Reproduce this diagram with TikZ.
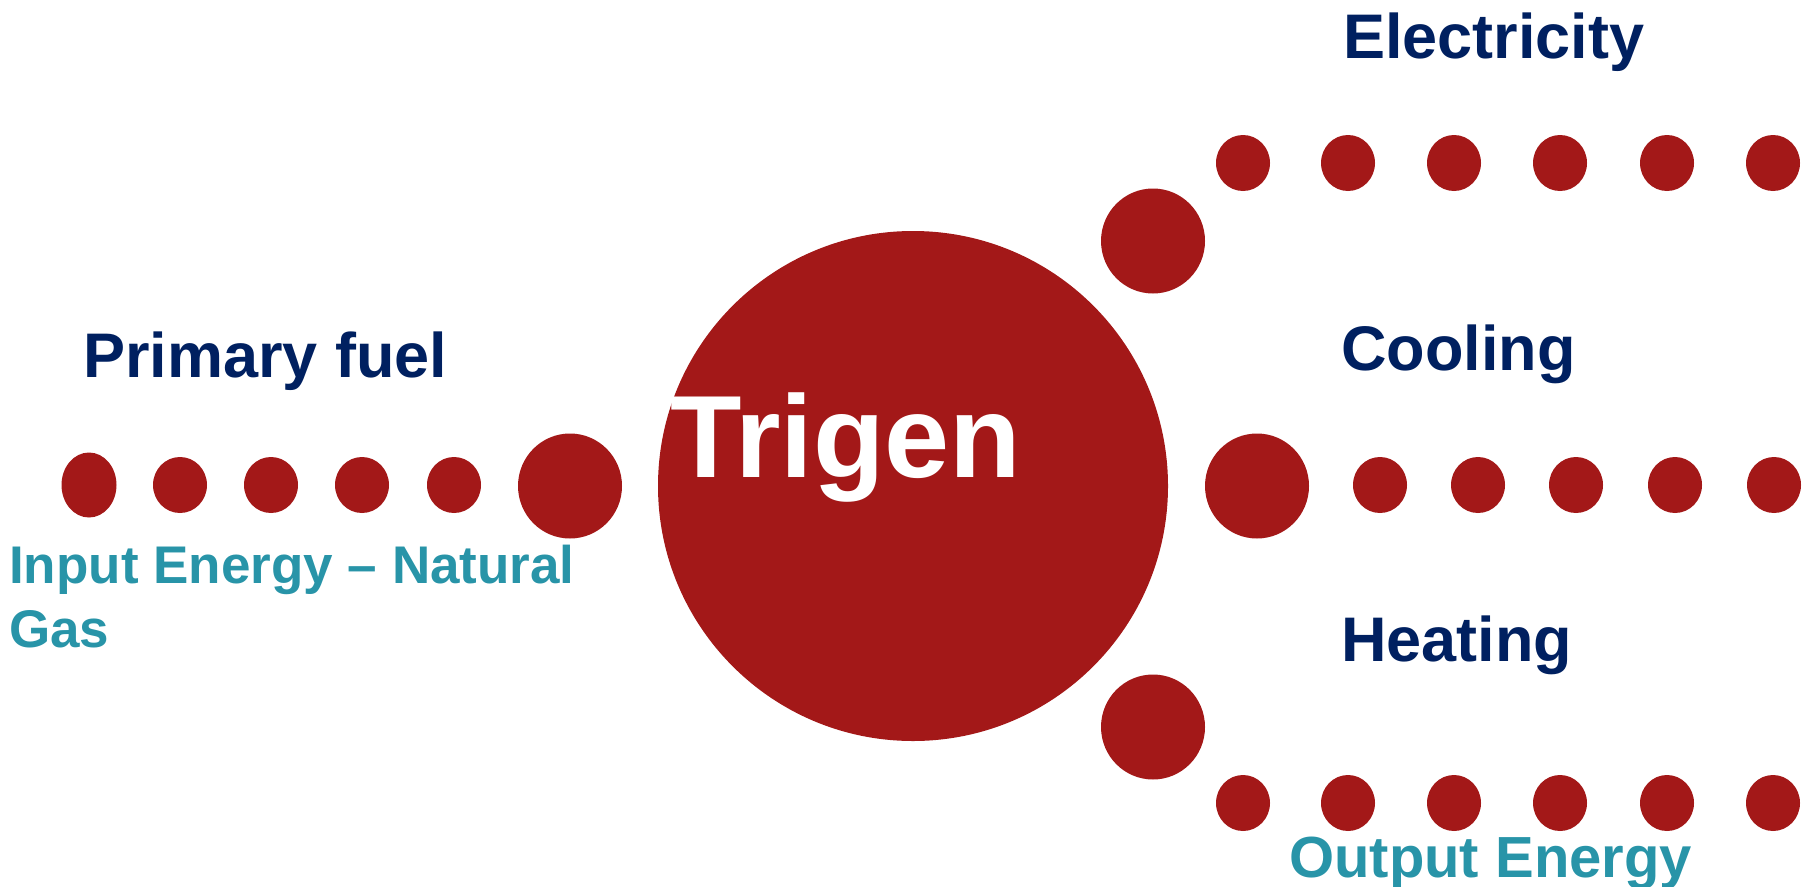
\documentclass[tikz,border=0pt]{standalone}
\usepackage{fontspec}
\setmainfont{Liberation Sans}
\usetikzlibrary{shapes.geometric}
\definecolor{trired}{RGB}{163,24,24}
\definecolor{trinavy}{RGB}{0,32,96}
\definecolor{triteal}{RGB}{40,148,168}
\tikzset{
  dotshape/.style={ellipse,fill=trired,draw=none,inner sep=0pt},
  smalldot/.style={dotshape,minimum width=54pt,minimum height=56pt},
  bigdot/.style={dotshape,minimum width=104pt,minimum height=105pt},
  navylabel/.style={anchor=base west,inner sep=0pt,text=trinavy,font=\fontsize{63}{63}\selectfont\bfseries},
  teallabel/.style={anchor=base west,inner sep=0pt,text=triteal,font=\fontsize{53}{64}\selectfont\bfseries,align=left},
}
\begin{document}
\begin{tikzpicture}[x=1pt,y=-1pt]
\useasboundingbox (0,0) rectangle (1812,886);
% central circle
\node[circle,fill=trired,draw=none,inner sep=0pt,minimum size=510pt] (core) at (913,486) {};
\node[anchor=base west,inner sep=0pt,text=white,font=\fontsize{117}{117}\selectfont\bfseries] (trigen) at (670,477) {Trigen};
% left row
\node[dotshape,minimum width=55pt,minimum height=65pt] (l1) at (89,485) {};
\node[smalldot] (l2) at (180,485) {};
\node[smalldot] (l3) at (271,485) {};
\node[smalldot] (l4) at (362,485) {};
\node[smalldot] (l5) at (454,485) {};
\node[bigdot] (l6) at (570,486) {};
% top branch
\node[bigdot] (t0) at (1153,241) {};
\foreach \i/\x in {1/1243,2/1348,3/1454,4/1560,5/1667,6/1773}
  \node[smalldot] (t\i) at (\x,163) {};
% middle branch
\node[bigdot] (m0) at (1257,486) {};
\foreach \i/\x in {1/1380,2/1478,3/1576,4/1675,5/1774}
  \node[smalldot] (m\i) at (\x,485) {};
% bottom branch
\node[bigdot] (b0) at (1153,727) {};
\foreach \i/\x in {1/1243,2/1348,3/1454,4/1560,5/1667,6/1773}
  \node[smalldot] (b\i) at (\x,803) {};
% labels
\node[navylabel] (elec) at (1343,58) {Electricity};
\node[navylabel] (cool) at (1341,370) {Cooling};
\node[navylabel] (heat) at (1341,661) {Heating};
\node[navylabel] (fuel) at (83,377) {Primary fuel};
\node[teallabel] (input) at (9,647) {Input Energy -- Natural\\Gas};
\node[anchor=base west,inner sep=0pt,text=triteal,font=\fontsize{58}{58}\selectfont\bfseries] (output) at (1289,877) {Output Energy};
\end{tikzpicture}
\end{document}
